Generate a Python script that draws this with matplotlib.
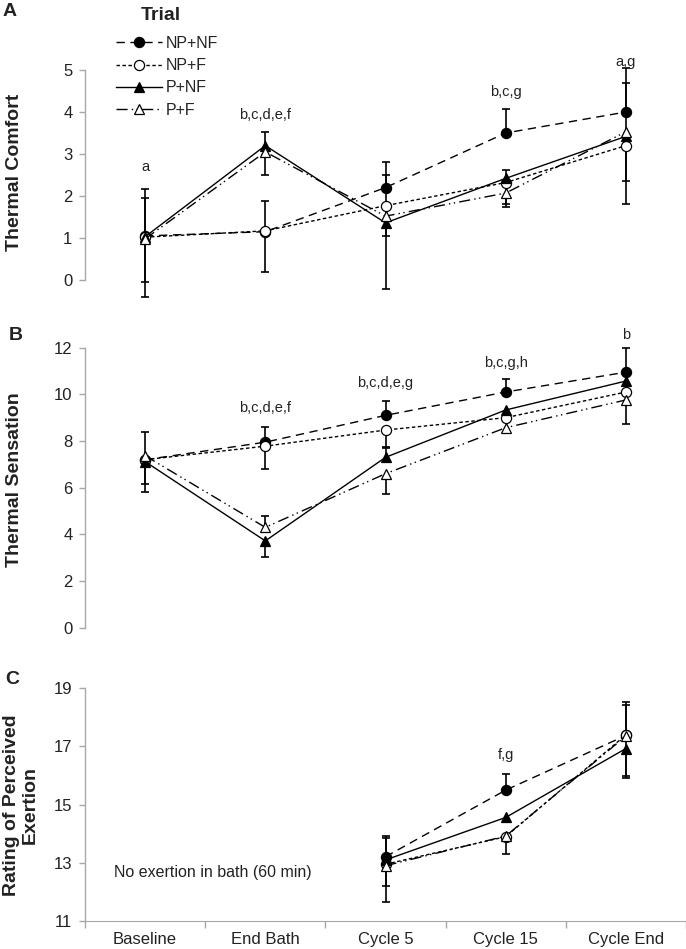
import numpy as np
import matplotlib
matplotlib.use("Agg")
import matplotlib.pyplot as plt
from matplotlib.lines import Line2D

plt.rcParams['font.family'] = ['Liberation Sans', 'DejaVu Sans']

# ---------------- data ----------------
categories = ['Baseline', 'End Bath', 'Cycle 5', 'Cycle 15', 'Cycle End']
series_names = ['NP+NF', 'NP+F', 'P+NF', 'P+F']

# Panel A: Thermal Comfort (means, lower error, upper error)
comfort_np_nf = [1.05, 1.15, 2.2, 3.5, 4.0]
comfort_np_f = [1.02, 1.17, 1.77, 2.32, 3.2]
comfort_p_nf = [1.03, 3.2, 1.36, 2.42, 3.42]
comfort_p_f = [0.98, 3.05, 1.52, 2.07, 3.53]
comfort_lo_np_nf = [1.1, 0, 0, 0, 0]
comfort_hi_np_nf = [0.91, 0, 0.62, 0.57, 1.05]
comfort_lo_np_f = [0, 0.98, 0.72, 0.5, 1.4]
comfort_hi_np_f = [0, 0.72, 0.73, 0, 0]
comfort_lo_p_nf = [1.43, 0, 1.58, 0, 0]
comfort_hi_p_nf = [1.14, 0.33, 0, 0.2, 0]
comfort_lo_p_f = [0, 0.55, 0, 0.33, 1.17]
comfort_hi_p_f = [0, 0, 0, 0, 1.17]

# Panel B: Thermal Sensation
sens_np_nf = [7.2, 7.95, 9.1, 10.1, 10.95]
sens_np_f = [7.2, 7.78, 8.47, 9.0, 10.1]
sens_p_nf = [7.12, 3.72, 7.3, 9.33, 10.57]
sens_p_f = [7.37, 4.3, 6.6, 8.57, 9.76]
sens_lo_np_nf = [0, 0, 0, 0, 0]
sens_hi_np_nf = [0, 0.67, 0.63, 0.55, 1.05]
sens_lo_np_f = [1.05, 0.98, 0.75, 0, 0]
sens_hi_np_f = [0, 0, 0, 0, 0]
sens_lo_p_nf = [1.31, 0.68, 0, 0, 0]
sens_hi_p_nf = [0, 0, 0.45, 0, 0]
sens_lo_p_f = [0, 0, 0.85, 0, 1.05]
sens_hi_p_f = [1.0, 0.47, 0, 0, 0]

# Panel C: Rating of Perceived Exertion
nan = np.nan
rpe_np_nf = [nan, nan, 13.21, 15.5, 17.38]
rpe_np_f = [nan, nan, 12.95, 13.9, 17.4]
rpe_p_nf = [nan, nan, 13.1, 14.56, 16.93]
rpe_p_f = [nan, nan, 12.9, 13.92, 17.36]
rpe_lo_np_nf = [0, 0, 0, 0, 0]
rpe_hi_np_nf = [0, 0, 0.7, 0.57, 1.14]
rpe_lo_np_f = [0, 0, 0.75, 0, 0]
rpe_hi_np_f = [0, 0, 0, 0, 1.04]
rpe_lo_p_nf = [0, 0, 0, 0, 1.0]
rpe_hi_p_nf = [0, 0, 0.75, 0, 0]
rpe_lo_p_f = [0, 0, 1.25, 0.6, 1.38]
rpe_hi_p_f = [0, 0, 0, 0, 0]

# significance annotations: (category index, y value, text)
notes_a = [(0, 2.69, 'a'), (1, 3.93, 'b,c,d,e,f'), (3, 4.48, 'b,c,g'), (4, 5.19, 'a,g')]
notes_b = [(1, 9.42, 'b,c,d,e,f'), (2, 10.5, 'b,c,d,e,g'), (3, 11.36, 'b,c,g,h'), (4, 12.55, 'b')]
notes_c = [(3, 16.71, 'f,g')]

# ---------------- styles ----------------
styles = {
    'NP+NF': dict(ls=(0, (6, 4)), marker='o', mfc='black', ms=7.3),
    'NP+F': dict(ls=(0, (2.5, 1.8)), marker='o', mfc='white', ms=7.3),
    'P+NF': dict(ls='-', marker='^', mfc='black', ms=7.5),
    'P+F': dict(ls=(0, (8, 3, 1, 2.5, 1, 3)), marker='^', mfc='white', ms=7.5),
}

W, H = 686, 949
fig = plt.figure(figsize=(W / 100, H / 100), dpi=100)


def rect(left, top, right, bottom):
    return [left / W, 1 - bottom / H, (right - left) / W, (bottom - top) / H]


def draw_panel(ax, means, los, his):
    x = np.arange(len(categories))
    for name, m, lo, hi in zip(series_names, means, los, his):
        st = styles[name]
        m = np.asarray(m, float)
        lo = np.asarray(lo, float)
        hi = np.asarray(hi, float)
        ok = ~np.isnan(m)
        # error bars (drawn only in directions with non-zero error)
        for err, sign in ((hi, 1), (lo, -1)):
            sel = ok & (err > 0)
            if sel.any():
                ends = m[sel] + sign * err[sel]
                ax.vlines(x[sel], m[sel], ends, colors='black', lw=1.2, zorder=2)
                ax.plot(x[sel], ends, ls='none', marker='_', ms=6, mew=1.2,
                        color='black', zorder=2)
        ax.plot(x[ok], m[ok], ls=st['ls'], color='black', lw=1.0,
                marker=st['marker'], ms=st['ms'], mfc=st['mfc'], mec='black',
                mew=0.9, zorder=3)
    ax.set_xlim(-0.5, len(categories) - 0.5)
    for s in ('top', 'right'):
        ax.spines[s].set_visible(False)
    ax.spines['left'].set_color('#a8a8a8')
    ax.spines['left'].set_linewidth(1.0)
    ax.tick_params(axis='y', direction='out', length=4, width=1, color='#a8a8a8',
                   labelsize=12, labelcolor='#222222', pad=5)


def annotate(ax, notes):
    for xi, yv, t in notes:
        ax.text(xi, yv, t, ha='center', va='center', fontsize=10.5,
                color='#222222', clip_on=False)


# Panel A
axA = fig.add_axes(rect(85, 57.4, 686, 301))
draw_panel(axA,
           [comfort_np_nf, comfort_np_f, comfort_p_nf, comfort_p_f],
           [comfort_lo_np_nf, comfort_lo_np_f, comfort_lo_p_nf, comfort_lo_p_f],
           [comfort_hi_np_nf, comfort_hi_np_f, comfort_hi_p_nf, comfort_hi_p_f])
axA.set_ylim(-0.5, 5.3)
axA.set_yticks(range(0, 6))
axA.spines['left'].set_bounds(0, 5)
axA.spines['bottom'].set_visible(False)
axA.set_xticks([])
annotate(axA, notes_a)

# Panel B
axB = fig.add_axes(rect(85, 329, 686, 639.4))
draw_panel(axB,
           [sens_np_nf, sens_np_f, sens_p_nf, sens_p_f],
           [sens_lo_np_nf, sens_lo_np_f, sens_lo_p_nf, sens_lo_p_f],
           [sens_hi_np_nf, sens_hi_np_f, sens_hi_p_nf, sens_hi_p_f])
axB.set_ylim(-0.5, 12.8)
axB.set_yticks(range(0, 13, 2))
axB.spines['left'].set_bounds(0, 12)
axB.spines['bottom'].set_visible(False)
axB.set_xticks([])
annotate(axB, notes_b)

# Panel C
axC = fig.add_axes(rect(85, 679.6, 686, 921))
draw_panel(axC,
           [rpe_np_nf, rpe_np_f, rpe_p_nf, rpe_p_f],
           [rpe_lo_np_nf, rpe_lo_np_f, rpe_lo_p_nf, rpe_lo_p_f],
           [rpe_hi_np_nf, rpe_hi_np_f, rpe_hi_p_nf, rpe_hi_p_f])
axC.set_ylim(11, 19.3)
axC.set_yticks(range(11, 20, 2))
axC.spines['left'].set_bounds(11, 19)
axC.spines['bottom'].set_color('#a8a8a8')
axC.set_xticks(np.arange(len(categories)))
axC.set_xticklabels(categories)
axC.set_xticks(np.arange(len(categories) + 1) - 0.5, minor=True)
axC.tick_params(axis='x', which='major', length=0, labelsize=12,
                labelcolor='#222222', pad=8)
axC.tick_params(axis='x', which='minor', length=5, width=1, color='#a8a8a8',
                direction='out')
annotate(axC, notes_c)
axC.text(-0.26, 12.68, 'No exertion in bath (60 min)', ha='left', va='center',
         fontsize=11.5, color='#222222')

# Y labels
fig.text(15 / W, 1 - 172 / H, 'Thermal Comfort', rotation=90, ha='center',
         va='center', fontsize=14, fontweight='bold', color='#222222')
fig.text(15 / W, 1 - 480 / H, 'Thermal Sensation', rotation=90, ha='center',
         va='center', fontsize=14, fontweight='bold', color='#222222')
fig.text(21 / W, 1 - 805 / H, 'Rating of Perceived\nExertion', rotation=90,
         ha='center', va='center', fontsize=14, fontweight='bold',
         color='#222222', multialignment='center', linespacing=1.12)

# Panel letters
fig.text(10 / W, 1 - 12 / H, 'A', ha='center', va='center', fontsize=14,
         fontweight='bold', color='#222222')
fig.text(16 / W, 1 - 336 / H, 'B', ha='center', va='center', fontsize=14,
         fontweight='bold', color='#222222')
fig.text(12 / W, 1 - 679 / H, 'C', ha='center', va='center', fontsize=14,
         fontweight='bold', color='#222222')

# Legend
fig.text(161 / W, 1 - 15 / H, 'Trial', ha='center', va='center', fontsize=14,
         fontweight='bold', color='#222222')
handles = [Line2D([], [], ls=styles[n]['ls'], color='black', lw=1.0,
                  marker=styles[n]['marker'], ms=styles[n]['ms'],
                  mfc=styles[n]['mfc'], mec='black', mew=0.9)
           for n in series_names]
fig.legend(handles, series_names, loc='upper left',
           bbox_to_anchor=(116 / W, 1 - 36 / H), frameon=False, fontsize=11.5,
           handlelength=2.9, handletextpad=0.2, labelspacing=0.45,
           borderpad=0, borderaxespad=0, numpoints=1, labelcolor='#222222')

fig.savefig('out.png', dpi=100)
